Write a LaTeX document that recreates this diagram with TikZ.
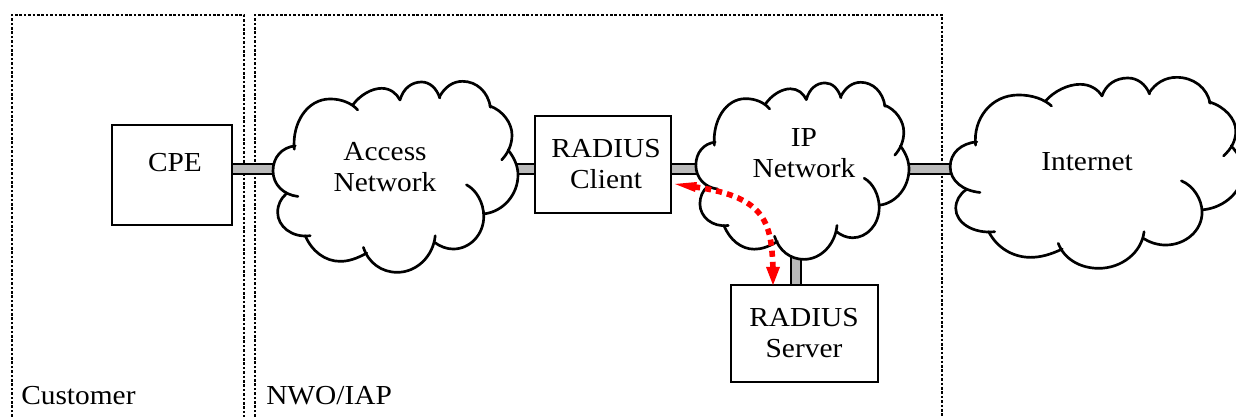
\documentclass[tikz,border=0pt]{standalone}
\usepackage{fontspec}
\setmainfont[FakeStretch=1.07]{Liberation Serif}
\usetikzlibrary{arrows.meta}
\newcommand{\mycloud}[5]{%
  % name, left, top, width, height (px)
  \node[minimum width=#4*0.75pt,minimum height=#5*0.75pt,inner sep=0pt,anchor=north west] (#1) at (#2,#3) {};
  \pgfmathsetmacro{\csx}{#4/740*0.75}
  \pgfmathsetmacro{\csy}{#5/577*0.75}
  \begin{scope}[shift={(#2,#3)},x=\csx pt,y=-\csy pt,shift={(-35,-33)}]
    \fill[white] (38,303) .. controls (38,262) and (65,232) .. (102,228)
      .. controls (95,160) and (140,87) .. (210,87) .. controls (235,87) and (260,92) .. (278,105)
      .. controls (300,75) and (335,55) .. (365,55) .. controls (390,55) and (410,70) .. (420,90)
      .. controls (430,55) and (455,36) .. (485,36) .. controls (510,36) and (530,55) .. (538,82)
      .. controls (555,50) and (580,34) .. (608,34) .. controls (650,34) and (685,65) .. (690,108)
      .. controls (730,122) and (757,160) .. (757,195) .. controls (757,210) and (752,225) .. (745,240)
      .. controls (765,265) and (775,290) .. (775,315) .. controls (775,375) and (730,425) .. (675,432)
      .. controls (672,495) and (630,538) .. (580,538) .. controls (560,538) and (540,530) .. (524,518)
      .. controls (500,575) and (460,608) .. (412,608) .. controls (370,608) and (335,582) .. (320,550)
      .. controls (290,567) and (265,575) .. (240,575) .. controls (195,575) and (155,545) .. (135,498)
      .. controls (95,505) and (52,470) .. (52,428) .. controls (52,405) and (62,385) .. (78,372)
      .. controls (52,360) and (38,335) .. (38,303) -- cycle;
    \draw[cloudline] (113,380) .. controls (70,375) and (38,345) .. (38,303) .. controls (38,262) and (65,232) .. (105,228);
    \draw[cloudline] (102,238) .. controls (95,160) and (140,87) .. (210,87) .. controls (245,87) and (275,100) .. (293,120);
    \draw[cloudline] (278,105) .. controls (300,75) and (335,55) .. (365,55) .. controls (390,55) and (410,70) .. (420,90);
    \draw[cloudline] (420,90) .. controls (430,55) and (455,36) .. (485,36) .. controls (510,36) and (530,55) .. (540,84);
    \draw[cloudline] (538,82) .. controls (555,50) and (580,34) .. (608,34) .. controls (650,34) and (685,65) .. (692,112);
    \draw[cloudline] (690,108) .. controls (730,122) and (757,160) .. (757,195) .. controls (757,225) and (745,250) .. (726,270);
    \draw[cloudline] (745,240) .. controls (765,265) and (775,290) .. (775,315) .. controls (775,375) and (730,425) .. (675,432);
    \draw[cloudline] (620,345) .. controls (650,360) and (672,400) .. (672,440) .. controls (672,495) and (630,538) .. (580,538) .. controls (560,538) and (540,530) .. (524,518);
    \draw[cloudline] (526,498) .. controls (520,560) and (470,608) .. (412,608) .. controls (365,608) and (325,580) .. (310,533);
    \draw[cloudline] (320,550) .. controls (290,567) and (265,575) .. (240,575) .. controls (195,575) and (155,545) .. (135,498);
    \draw[cloudline] (150,498) .. controls (95,505) and (52,470) .. (52,428) .. controls (52,405) and (62,385) .. (78,372);
  \end{scope}
}
\tikzset{
  x=0.75pt,y=-0.75pt,
  cloudline/.style={draw=black,line width=2pt,line cap=round},
  zone/.style={draw=black,line width=1.15pt,dash pattern=on 2pt off 1.3pt},
  boxnode/.style={draw=black,fill=white,line width=1.6pt,inner sep=0pt,outer sep=0pt,anchor=north west},
  bar/.style={draw=black,line width=9.4pt},
  barin/.style={draw=black!27,line width=6.4pt},
  lab/.style={font=\fontsize{20.6}{23}\selectfont,align=center,inner sep=0pt,text=black},
  flow/.style={draw=red,line width=4.2pt,dash pattern=on 4.6pt off 3.8pt},
  headf/.style={fill=red,draw=none},
}
\begin{document}
\begin{tikzpicture}
\useasboundingbox (0,0) rectangle (1236,417);
\clip (0,0) rectangle (1236,417);
\fill[white] (0,0) rectangle (1236,417);
% zones
\coordinate (zc1) at (12,430); \coordinate (zc2) at (12,15); \coordinate (zc3) at (244,15); \coordinate (zc4) at (244,430);
\coordinate (zn1) at (255,430); \coordinate (zn2) at (255,15); \coordinate (zn3) at (942,15); \coordinate (zn4) at (942,430);
\draw[zone] (zc1) -- (zc2) -- (zc3) -- (zc4);
\draw[zone] (zn1) -- (zn2) -- (zn3) -- (zn4);
% boxes (named first so bars can refer to them)
\coordinate (busy) at (0,169);
\coordinate (busx) at (796,0);
\path (112,125) node[boxnode,minimum width=90pt,minimum height=75pt] (cpe) {};
\path (535,116) node[boxnode,minimum width=102pt,minimum height=72.75pt] (cli) {};
\path (731,285) node[boxnode,minimum width=110.25pt,minimum height=72.75pt] (srv) {};
\node[inner sep=0pt,minimum width=184.5pt,minimum height=144pt,anchor=north west] (accb) at (272,81) {};
\node[inner sep=0pt,minimum width=160.5pt,minimum height=133.5pt,anchor=north west] (ipb) at (695,82) {};
\node[inner sep=0pt,minimum width=220.5pt,minimum height=144pt,anchor=north west] (intb) at (949,77) {};
% bars
\foreach \a/\b in {cpe.east/accb.center,accb.center/cli.west,cli.east/ipb.center,ipb.center/intb.center}{
  \draw[bar] (\a |- busy) -- (\b |- busy);
  \draw[barin] (\a |- busy) -- (\b |- busy);
}
\draw[bar] (ipb.center -| busx) -- (srv.north -| busx);
\draw[barin] (ipb.center -| busx) -- (srv.north -| busx);
% clouds
\mycloud{acc}{272}{81}{246}{192}
\mycloud{ipn}{695}{82}{214}{178}
\mycloud{inet}{949}{77}{294}{192}
% boxes redraw on top of bars
\path (112,125) node[boxnode,minimum width=90pt,minimum height=75pt] {};
\path (535,116) node[boxnode,minimum width=102pt,minimum height=72.75pt] {};
\path (731,285) node[boxnode,minimum width=110.25pt,minimum height=72.75pt] {};
% labels
\node[lab,anchor=base] (tcpe) at (175,172) {CPE};
\node[lab] (tacc) at (385,167) {Access\\Network};
\node[lab] (tcli) at (606,164) {RADIUS\\Client};
\node[lab] (tip) at (804,153) {IP\\Network};
\node[lab] (tsrv) at (804,333) {RADIUS\\Server};
\node[lab,anchor=base] (tint) at (1087,171) {Internet};
\node[lab,anchor=base west] (tcus) at (21,404) {Customer};
\node[lab,anchor=base west] (tnwo) at (266,404) {NWO/IAP};
% red flow
\coordinate (fa) at (773,268);
\coordinate (fb) at (695,187);
\draw[flow] (fa) .. controls (771,225) and (768,197) .. (fb);
\fill[headf] (773,285) -- (766,267) -- (780,267) -- cycle;
\fill[headf] (675,184) -- (697,182) -- (695,192) -- cycle;
\end{tikzpicture}
\end{document}
